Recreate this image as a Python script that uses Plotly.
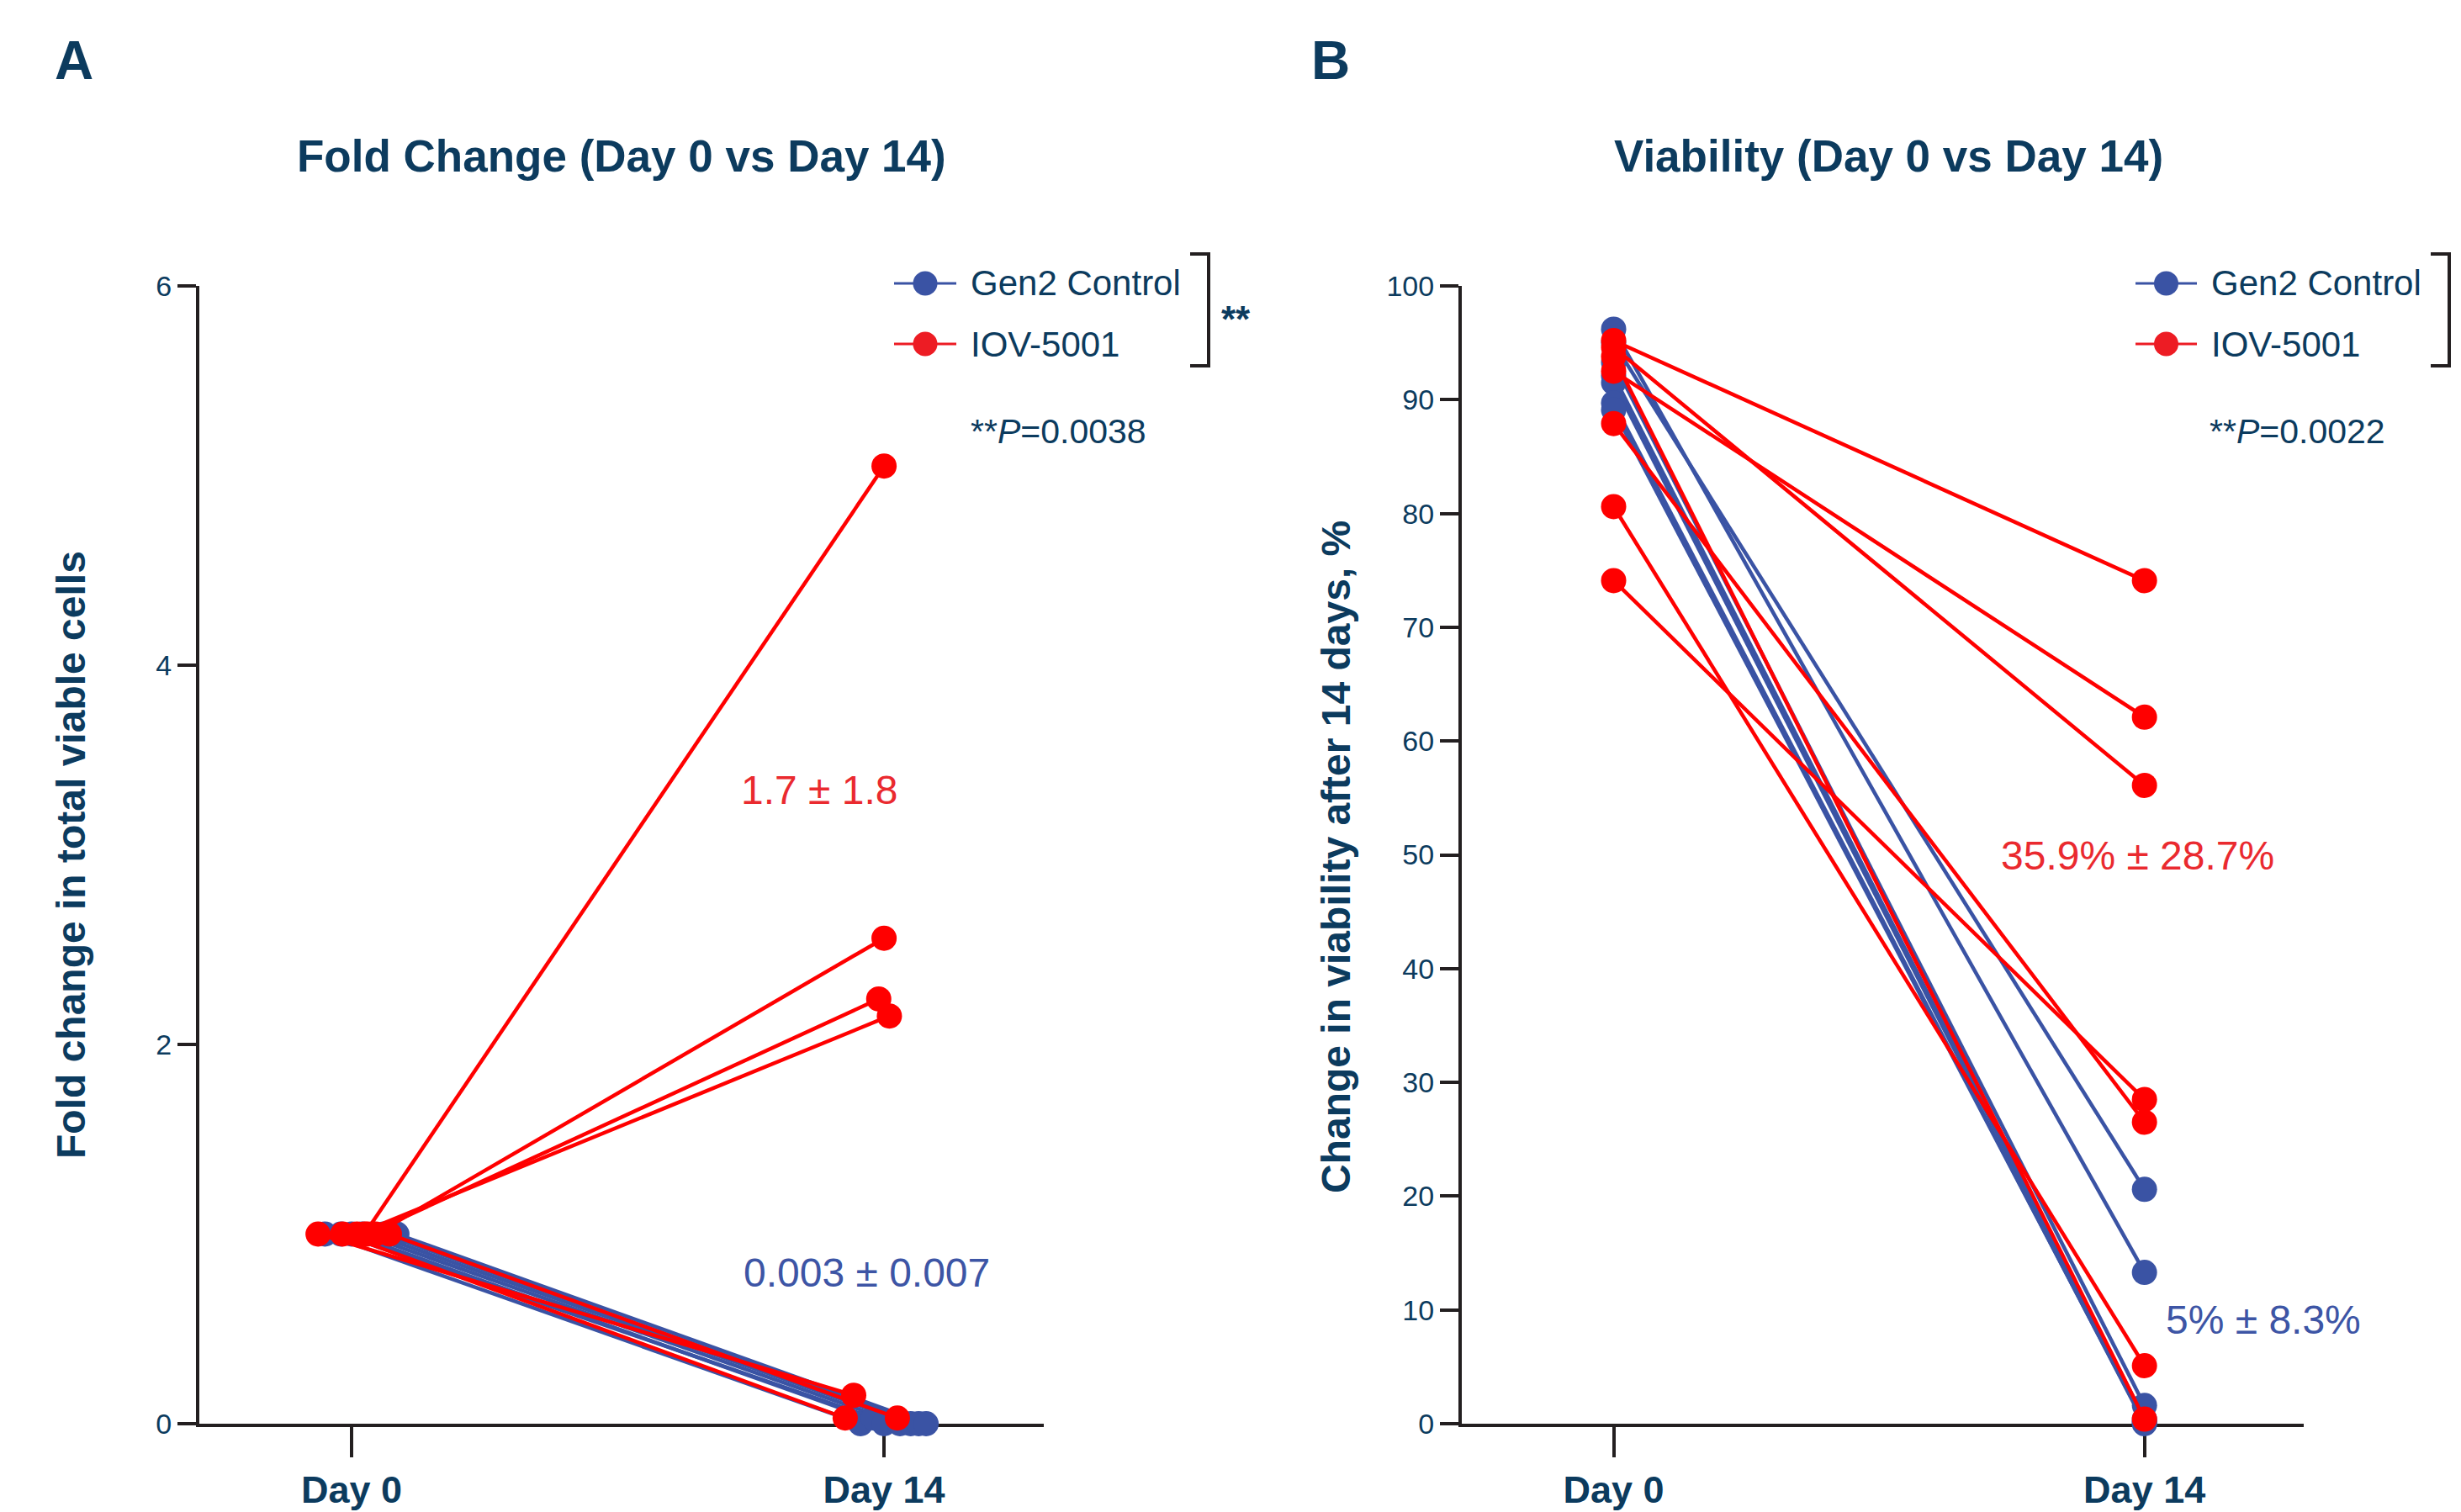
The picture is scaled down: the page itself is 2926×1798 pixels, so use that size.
import plotly.graph_objects as go

# ---------------- data ----------------
days = ["Day 0", "Day 14"]
day_pos = [0, 1]

# Panel A: fold change in total viable cells (Day 0 normalised to 1)
a_gen2_day0 = [1.0, 1.0, 1.0, 1.0, 1.0, 1.0, 1.0]
a_gen2_day14 = [0.0, 0.03, 0.0, 0.0, 0.0, 0.0, 0.0]
a_iov_day0 = [1.0, 1.0, 1.0, 1.0, 1.0, 1.0, 1.0]
a_iov_day14 = [5.05, 2.56, 2.24, 2.15, 0.15, 0.03, 0.03]
# small horizontal jitter (x-axis units)
a_gen2_off0 = [-0.05, -0.02, 0.0, 0.02, 0.04, 0.06, 0.085]
a_gen2_off14 = [-0.044, -0.02, 0.0, 0.03, 0.05, 0.065, 0.079]
a_iov_off0 = [0.024, 0.045, 0.03, 0.01, -0.063, -0.017, 0.071]
a_iov_off14 = [0.0, 0.0, -0.01, 0.01, -0.057, -0.073, 0.025]

# Panel B: viability, %
b_gen2_day0 = [96.2, 95.0, 93.3, 92.1, 91.5, 89.7, 89.1]
b_gen2_day14 = [13.3, 20.6, 1.6, 0.4, 0.2, 0.0, 0.1]
b_iov_day0 = [95.2, 94.6, 92.5, 93.8, 87.9, 80.6, 74.1]
b_iov_day14 = [74.1, 56.1, 62.1, 0.4, 26.5, 5.1, 28.5]

a_yticks = [0, 2, 4, 6]
b_yticks = list(range(0, 101, 10))

series_names = ["Gen2 Control", "IOV-5001"]
a_stats = ["0.003 ± 0.007", "1.7 ± 1.8"]
b_stats = ["5% ± 8.3%", "35.9% ± 28.7%"]
a_p = "**<i>P</i>=0.0038"
b_p = "**<i>P</i>=0.0022"

# ---------------- style ----------------
W, H = 2926, 1798
FONT = "Liberation Sans, Arial, Helvetica, sans-serif"
NAVY = "#0C3B5E"
AXIS = "#231F20"
BLUE = "#3A53A4"
RED = "#FF0000"
LEG_RED = "#ED1C24"
TXT_RED = "#EA2A2F"
TXT_BLUE = "#3D55A5"


def px(x):
    return x / W


def py(y):
    return 1 - y / H


def pair_xy(d0, d14, off0=None, off14=None):
    xs, ys = [], []
    for i in range(len(d0)):
        o0 = off0[i] if off0 else 0.0
        o1 = off14[i] if off14 else 0.0
        xs += [day_pos[0] + o0, day_pos[1] + o1, None]
        ys += [d0[i], d14[i], None]
    return xs, ys


fig = go.Figure()

def add_pairs(xs, ys, color, xa, ya, name):
    fig.add_trace(go.Scatter(
        x=xs, y=ys, mode="lines+markers", name=name,
        line=dict(color=color, width=4.5),
        marker=dict(color=color, size=30, line=dict(width=0)),
        xaxis=xa, yaxis=ya, showlegend=False, cliponaxis=False,
        connectgaps=False, hoverinfo="skip"))

xs, ys = pair_xy(a_gen2_day0, a_gen2_day14, a_gen2_off0, a_gen2_off14)
add_pairs(xs, ys, BLUE, "x", "y", series_names[0])
xs, ys = pair_xy(a_iov_day0, a_iov_day14, a_iov_off0, a_iov_off14)
add_pairs(xs, ys, RED, "x", "y", series_names[1])
xs, ys = pair_xy(b_gen2_day0, b_gen2_day14)
add_pairs(xs, ys, BLUE, "x2", "y2", series_names[0])
xs, ys = pair_xy(b_iov_day0, b_iov_day14)
add_pairs(xs, ys, RED, "x2", "y2", series_names[1])

ydom = [py(1693), py(340)]
xrng = [-0.286, 1.300]

common_x = dict(
    range=xrng, tickvals=day_pos, ticktext=days, showline=True,
    linecolor=AXIS, linewidth=4, ticks="outside", ticklen=36, tickwidth=4,
    tickcolor=AXIS, showgrid=False, zeroline=False, layer="below traces",
    tickfont=dict(family=FONT, size=45, color=NAVY, weight="bold"),
    automargin=False, fixedrange=True)
common_y = dict(
    showline=True, linecolor=AXIS, linewidth=4, ticks="outside", ticklen=22,
    tickwidth=4, tickcolor=AXIS, showgrid=False, zeroline=False,
    layer="below traces", tickfont=dict(family=FONT, size=34, color=NAVY),
    automargin=False, fixedrange=True)

fig.update_layout(
    width=W, height=H, paper_bgcolor="white", plot_bgcolor="white",
    margin=dict(l=0, r=0, t=0, b=0, pad=0, autoexpand=False), showlegend=False,
    font=dict(family=FONT, color=NAVY),
    xaxis=dict(domain=[px(237), px(1241)], anchor="y", **common_x),
    yaxis=dict(domain=ydom, anchor="x", range=[0, 6], tickvals=a_yticks, **common_y),
    xaxis2=dict(domain=[px(1738), px(2739)], anchor="y2", **common_x),
    yaxis2=dict(domain=ydom, anchor="x2", range=[0, 100], tickvals=b_yticks, **common_y),
)

ann = []

def text(x, y, s, size, color=NAVY, bold=False, xanchor="center", angle=0):
    ann.append(dict(
        x=px(x), y=py(y), xref="paper", yref="paper", text=s, showarrow=False,
        xanchor=xanchor, yanchor="middle", textangle=angle,
        font=dict(family=FONT, size=size, color=color,
                  weight="bold" if bold else "normal")))

# panel letters and titles
text(88, 72, "A", 64, bold=True)
text(1582, 72, "B", 64, bold=True)
text(739, 185, "Fold Change (Day 0 vs Day 14)", 53, bold=True)
text(2245, 185, "Viability (Day 0 vs Day 14)", 53, bold=True)

# y-axis titles
text(84, 1017, "Fold change in total viable cells", 48, bold=True, angle=-90)
text(1588, 1019, "Change in viability after 14 days, %", 48, bold=True, angle=-90)

# group summary texts
text(974, 939, a_stats[1], 48, color=TXT_RED)
text(1030, 1513, a_stats[0], 48, color=TXT_BLUE)
text(2541, 1017, b_stats[1], 48, color=TXT_RED)
text(2691, 1569, b_stats[0], 48, color=TXT_BLUE)

# P values
text(1152, 513, a_p, 41, xanchor="left")
text(2625, 513, b_p, 41, xanchor="left")

shapes = []

def legend_block(x_line0, x_line1, x_text, bracket_x):
    rows = [(337, BLUE, series_names[0]), (409, LEG_RED, series_names[1])]
    for yy, col, name in rows:
        shapes.append(dict(type="line", xref="paper", yref="paper",
                           x0=px(x_line0), x1=px(x_line1), y0=py(yy), y1=py(yy),
                           line=dict(color=col, width=3)))
        cx = (x_line0 + x_line1) / 2
        shapes.append(dict(type="circle", xref="paper", yref="paper",
                           xsizemode="pixel", ysizemode="pixel",
                           xanchor=px(cx), yanchor=py(yy),
                           x0=-14.5, x1=14.5, y0=-14.5, y1=14.5,
                           fillcolor=col, line=dict(width=0)))
        text(x_text, yy, name, 42, xanchor="left")
    # significance bracket
    shapes.append(dict(
        type="path", xref="paper", yref="paper",
        path=(f"M {px(bracket_x - 22)},{py(302)} L {px(bracket_x)},{py(302)} "
              f"L {px(bracket_x)},{py(435)} L {px(bracket_x - 22)},{py(435)}"),
        line=dict(color=AXIS, width=4)))
    text(bracket_x + 13, 380, "**", 44, bold=True, xanchor="left")

legend_block(1063, 1137, 1152, 1437)
legend_block(2539, 2612, 2627, 2912)

fig.update_layout(annotations=ann, shapes=shapes)

fig.write_html("out.html")
